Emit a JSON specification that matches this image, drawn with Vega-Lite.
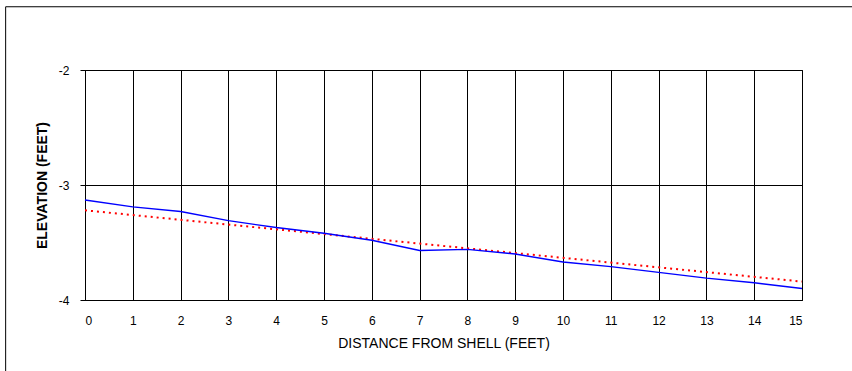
{
  "$schema": "https://vega.github.io/schema/vega-lite/v6.json",
  "autosize": "none",
  "width": 717,
  "height": 230,
  "padding": {"left": 85, "top": 70, "right": 50, "bottom": 71},
  "background": "white",
  "config": {
    "font": "Liberation Sans",
    "view": {"stroke": "black", "strokeWidth": 1},
    "axis": {
      "labelFont": "Liberation Sans",
      "titleFont": "Liberation Sans",
      "labelFontSize": 12,
      "titleFontSize": 14,
      "labelColor": "black",
      "titleColor": "black",
      "domainColor": "black",
      "tickColor": "black",
      "gridColor": "black",
      "gridOpacity": 1,
      "gridWidth": 1
    }
  },
  "datasets": {
    "frame": [{"x0": -1.66, "x1": 25, "y0": -1.45, "y1": -8}],
    "measured": [
      {"d": 0, "e": -3.13}, {"d": 1, "e": -3.19}, {"d": 2, "e": -3.23},
      {"d": 3, "e": -3.31}, {"d": 4, "e": -3.37}, {"d": 5, "e": -3.42},
      {"d": 6, "e": -3.48}, {"d": 7, "e": -3.57}, {"d": 8, "e": -3.56},
      {"d": 9, "e": -3.60}, {"d": 10, "e": -3.67}, {"d": 11, "e": -3.71},
      {"d": 12, "e": -3.76}, {"d": 13, "e": -3.81}, {"d": 14, "e": -3.85},
      {"d": 15, "e": -3.90}
    ],
    "trend": [{"d": 0, "e": -3.22}, {"d": 15, "e": -3.84}]
  },
  "layer": [
    {
      "data": {"name": "frame"},
      "mark": {"type": "rect", "clip": false, "fill": null, "stroke": "black", "strokeWidth": 1},
      "encoding": {
        "x": {"field": "x0", "type": "quantitative", "scale": {"domain": [0, 15], "nice": false, "zero": false}},
        "x2": {"field": "x1"},
        "y": {"field": "y0", "type": "quantitative", "scale": {"domain": [-4, -2], "nice": false, "zero": false}},
        "y2": {"field": "y1"}
      }
    },
    {
      "data": {"name": "trend"},
      "mark": {"type": "line", "color": "red", "strokeWidth": 2, "strokeDash": [2, 4]},
      "encoding": {
        "x": {"field": "d", "type": "quantitative"},
        "y": {"field": "e", "type": "quantitative"}
      }
    },
    {
      "data": {"name": "measured"},
      "mark": {"type": "line", "color": "blue", "strokeWidth": 1.4},
      "encoding": {
        "x": {
          "field": "d", "type": "quantitative",
          "axis": {
            "title": "DISTANCE FROM SHELL (FEET)",
            "titleFontWeight": "normal",
            "titleFontSize": 14,
            "values": [0,1,2,3,4,5,6,7,8,9,10,11,12,13,14,15],
            "labelExpr": "'' + datum.value",
            "tickSize": 0,
            "labelPadding": 15,
            "titlePadding": 10,
            "grid": true
          }
        },
        "y": {
          "field": "e", "type": "quantitative",
          "axis": {
            "title": "ELEVATION (FEET)",
            "titleFontWeight": "bold",
            "titleFontSize": 14,
            "values": [-4, -3, -2],
            "labelExpr": "'' + datum.value",
            "tickSize": 5,
            "labelPadding": 11,
            "titlePadding": 9,
            "grid": true
          }
        }
      }
    }
  ]
}
